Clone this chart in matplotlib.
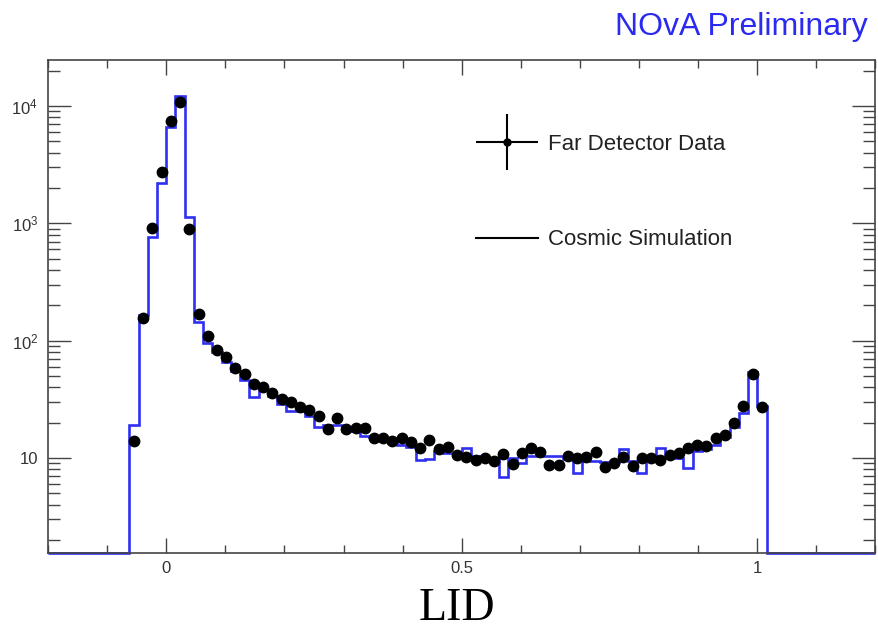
import numpy as np
import matplotlib
matplotlib.use("Agg")
import matplotlib.pyplot as plt
from matplotlib.legend_handler import HandlerErrorbar
from matplotlib.lines import Line2D
from matplotlib.ticker import LogLocator, MultipleLocator, FuncFormatter, NullFormatter

plt.rcParams["font.family"] = ["Liberation Sans", "DejaVu Sans"]
plt.rcParams["mathtext.default"] = "regular"

# LID binning: 1/64 wide bins, filled from -4/64 to 65/64
lid_edges = np.arange(-4, 66) / 64.0

# cosmic simulation (blue histogram), one value per bin
sim_counts = [
    19, 165, 760, 2220, 6620, 12300, 1140, 145, 95, 80,
    66, 55, 46, 33, 38, 34, 29, 25, 25, 23,
    18.5, 19, 19, 17, 17, 15.5, 15, 14, 13.5, 13,
    12.5, 9.6, 9.8, 11.5, 11, 10.5, 12.1, 10.5, 10, 10,
    6.9, 10, 9.1, 10.5, 10.5, 10.5, 10.5, 9.8, 7.4, 9.5,
    9.5, 9.3, 9.3, 11.9, 9.5, 7.4, 9.6, 12.1, 10, 10,
    8.2, 11.5, 12, 13, 15, 18.5, 24, 54, 28,
]

# far detector data (black points), one value per bin
data_counts = [
    14, 155, 920, 2740, 7460, 10900, 890, 168, 110, 83,
    72, 59, 52, 43, 40, 36, 32, 30, 27, 25.5,
    23, 17.6, 21.8, 17.6, 18, 18, 14.7, 14.7, 14, 14.7,
    13.8, 12.1, 14.2, 11.9, 12.5, 10.6, 10.3, 9.6, 10.1, 9.5,
    10.8, 8.9, 11.1, 12.1, 11.3, 8.7, 8.7, 10.4, 10.1, 10.3,
    11.3, 8.4, 9.1, 10.3, 8.5, 10.0, 10.1, 9.6, 10.6, 11.0,
    12.1, 12.9, 12.6, 14.7, 15.7, 20, 27.7, 52, 27,
]

x_lo, x_hi = -0.2, 1.2
y_lo, y_hi = 1.55, 24700

fig = plt.figure(figsize=(8.79, 6.32), dpi=100)
ax = fig.add_axes([0.0546, 0.125, 0.9414, 0.780])
ax.set_yscale("log")

# histogram, empty regions drawn along the bottom like ROOT does
stair_vals = np.r_[y_lo, sim_counts, y_lo]
stair_edges = np.r_[x_lo, lid_edges, x_hi]
ax.stairs(stair_vals, stair_edges, baseline=None, color="#2f2ff2", lw=1.9,
          clip_on=False, zorder=2)

centers = 0.5 * (lid_edges[:-1] + lid_edges[1:])
ax.plot(centers, data_counts, "o", color="black", ms=7.5, zorder=3)

ax.set_xlim(x_lo, x_hi)
ax.set_ylim(y_lo, y_hi)

# ticks, ROOT style
ax.xaxis.set_major_locator(MultipleLocator(0.5))
ax.xaxis.set_minor_locator(MultipleLocator(0.1))
ax.xaxis.set_major_formatter(FuncFormatter(lambda v, p: f"{v:g}"))
ax.yaxis.set_major_locator(LogLocator(base=10))
ax.yaxis.set_minor_locator(LogLocator(base=10, subs=np.arange(2, 10)))
ax.yaxis.set_minor_formatter(NullFormatter())
ax.yaxis.set_major_formatter(
    FuncFormatter(lambda v, p: "10" if round(np.log10(v)) == 1 else f"$10^{{{int(round(np.log10(v)))}}}$"))

ax.tick_params(which="both", direction="in", top=True, right=True,
               color="#444444", labelsize=12, labelcolor="#333333", width=1.0)
ax.tick_params(axis="x", which="major", length=11, pad=6)
ax.tick_params(axis="x", which="minor", length=5.5)
ax.tick_params(axis="y", which="major", length=16.5, pad=7)
ax.tick_params(axis="y", which="minor", length=8.5)
for sp in ax.spines.values():
    sp.set_color("#444444")
    sp.set_linewidth(1.2)

# legend
data_handle = ax.errorbar([np.nan], [np.nan], xerr=[1], yerr=[1], fmt="o",
                          color="black", ms=5, elinewidth=1.5, capsize=0)
sim_handle = Line2D([], [], color="black", lw=1.5)
ax.legend([data_handle, sim_handle], ["Far Detector Data", "Cosmic Simulation"],
          loc="upper left", bbox_to_anchor=(0.517, 0.85), frameon=False,
          fontsize=16, labelcolor="#222222", handlelength=2.8, handletextpad=0.45,
          labelspacing=3.35, borderpad=0, borderaxespad=0,
          handler_map={type(data_handle): HandlerErrorbar(xerr_size=1.4, yerr_size=1.25)})

fig.text(0.987, 0.957, "NOvA Preliminary", ha="right", va="center",
         color="#2a2af0", fontsize=23)
fig.text(0.52, 0.003, "LID", ha="center", va="bottom", fontsize=33,
         family="Liberation Serif")

fig.savefig("out.png", dpi=100)
